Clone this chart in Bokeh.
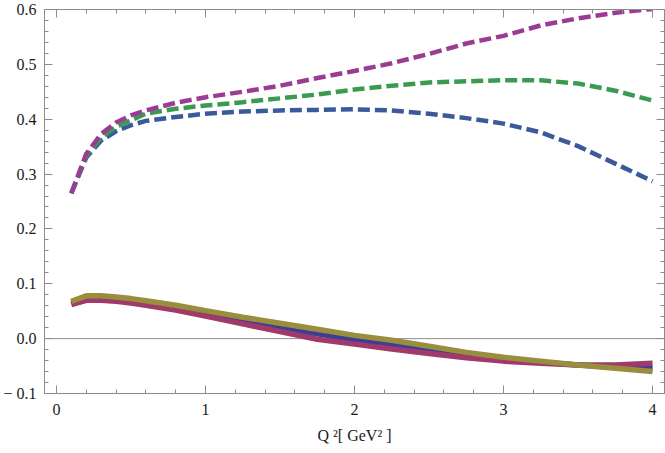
from bokeh.plotting import figure
from bokeh.models import LinearAxis, FixedTicker, Span, Range1d, CustomJSTickFormatter
from bokeh.embed import file_html
from bokeh.resources import INLINE

# ---- data ----
q2 = [0.1, 0.2, 0.3, 0.4, 0.5, 0.6, 0.8, 1.0, 1.25, 1.5, 1.75, 2.0,
      2.25, 2.5, 2.75, 3.0, 3.25, 3.5, 3.75, 4.0]

dash_purple = [0.265, 0.337, 0.373, 0.394, 0.407, 0.416, 0.430, 0.440, 0.450, 0.461,
               0.475, 0.488, 0.502, 0.519, 0.538, 0.552, 0.571, 0.584, 0.594, 0.601]
dash_green = [0.265, 0.333, 0.367, 0.386, 0.398, 0.410, 0.419, 0.425, 0.431, 0.438,
              0.445, 0.454, 0.461, 0.467, 0.469, 0.471, 0.471, 0.465, 0.452, 0.434]
dash_blue = [0.265, 0.330, 0.361, 0.378, 0.389, 0.397, 0.404, 0.410, 0.414, 0.416,
             0.417, 0.418, 0.416, 0.410, 0.402, 0.392, 0.376, 0.351, 0.319, 0.287]

solid_blue = [0.065, 0.073, 0.074, 0.072, 0.069, 0.065, 0.056, 0.045, 0.032, 0.020,
              0.009, -0.002, -0.012, -0.021, -0.030, -0.037, -0.043, -0.048, -0.052, -0.055]
solid_magenta = [0.062, 0.070, 0.070, 0.068, 0.065, 0.061, 0.052, 0.041, 0.027, 0.013,
                 -0.001, -0.010, -0.019, -0.027, -0.035, -0.041, -0.045, -0.048, -0.048, -0.045]
solid_olive = [0.068, 0.078, 0.078, 0.076, 0.073, 0.069, 0.061, 0.051, 0.039, 0.028,
               0.017, 0.006, -0.003, -0.014, -0.025, -0.034, -0.041, -0.048, -0.054, -0.060]

x_ticks = [0, 1, 2, 3, 4]
x_tick_labels = ["0", "1", "2", "3", "4"]
y_ticks = [-0.1, 0.0, 0.1, 0.2, 0.3, 0.4, 0.5, 0.6]
y_tick_labels = ["\u2212 0.1", "0.0", "0.1", "0.2", "0.3", "0.4", "0.5", "0.6"]
x_minor = [round(0.2 * i, 3) for i in range(21)]
y_minor = [round(-0.1 + 0.02 * i, 3) for i in range(36)]

FRAME = "#8c8c8c"
FONT = "Liberation Serif"

p = figure(width=665, height=453, output_backend="svg", toolbar_location=None,
           x_range=Range1d(-0.08, 4.08), y_range=Range1d(-0.1, 0.6),
           min_border_left=42, min_border_right=1, min_border_top=9, min_border_bottom=60,
           x_axis_location=None, y_axis_location=None)
p.xgrid.visible = False
p.ygrid.visible = False
p.outline_line_color = None
p.background_fill_color = "white"
p.border_fill_color = "white"


def style(ax, labels):
    ax.axis_line_color = FRAME
    ax.axis_line_width = 1
    ax.major_tick_line_color = FRAME
    ax.minor_tick_line_color = FRAME
    ax.major_tick_in = 8
    ax.major_tick_out = 0
    ax.minor_tick_in = 4
    ax.minor_tick_out = 0
    if labels:
        ax.major_label_text_font = FONT
        ax.major_label_text_font_size = "16px"
        ax.major_label_text_color = "#1a1a1a"
    else:
        ax.formatter = CustomJSTickFormatter(code="return ''")
        ax.major_label_text_font_size = "0px"
        ax.major_label_standoff = 0


xt = FixedTicker(ticks=x_ticks, minor_ticks=x_minor)
yt = FixedTicker(ticks=y_ticks, minor_ticks=y_minor)

bottom = LinearAxis(ticker=xt)
style(bottom, True)
bottom.major_label_overrides = dict(zip(x_ticks, x_tick_labels))
bottom.major_label_standoff = 10
bottom.axis_label = "Q \u00b2[ GeV\u00b2 ]"
bottom.axis_label_text_font = FONT
bottom.axis_label_text_font_style = "normal"
bottom.axis_label_text_font_size = "16px"
bottom.axis_label_text_color = "#1a1a1a"
bottom.axis_label_standoff = 9
p.add_layout(bottom, "below")

left = LinearAxis(ticker=yt)
style(left, True)
left.major_label_overrides = dict(zip(y_ticks, y_tick_labels))
left.major_label_standoff = 8
p.add_layout(left, "left")

top = LinearAxis(ticker=xt)
style(top, False)
p.add_layout(top, "above")

right = LinearAxis(ticker=yt)
style(right, False)
p.add_layout(right, "right")

p.add_layout(Span(location=0, dimension="width", line_color="#8c8c8c", line_width=1, level="underlay"))

# dashed curves
p.line(q2, dash_blue, line_color="#3b5a9b", line_width=4.5, line_dash="12 5")
p.line(q2, dash_green, line_color="#3a9a50", line_width=4.5, line_dash="12 5")
p.line(q2, dash_purple, line_color="#9b3b95", line_width=4.5, line_dash="12 5")

# solid curves
p.line(q2, solid_blue, line_color="#3d3d99", line_width=5.5)
p.line(q2, solid_magenta, line_color="#a03a6a", line_width=5.5)
p.line(q2, solid_olive, line_color="#998e3d", line_width=5.5)

open("out.html", "w").write(file_html(p, INLINE))
